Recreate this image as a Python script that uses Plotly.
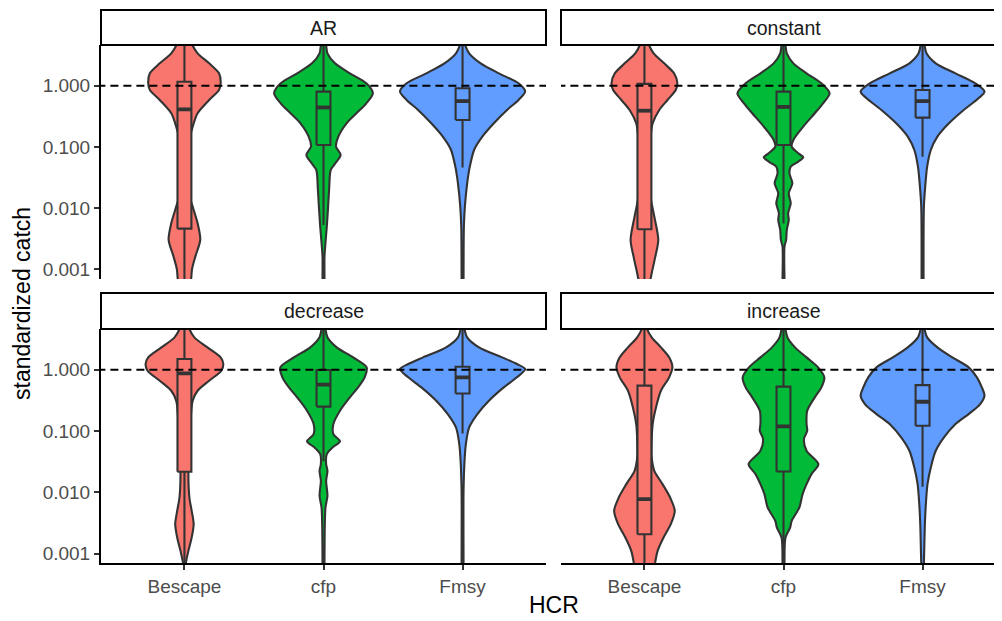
import plotly.graph_objects as go

# ---------------- data ----------------
hcr_labels = ["Bescape", "cfp", "Fmsy"]
scenarios = ["AR", "constant", "decrease", "increase"]
fill_colors = ["#F8766D", "#00BA38", "#619CFF"]
hcr_pos = [1, 2, 3]
ref_catch = 1.0

# violin outlines: log10(standardized catch) and relative density width
ar_bescape_log = [0.80, 0.665, 0.529, 0.365, 0.202, 0.039, -0.070, -0.234, -0.451, -0.669, -0.887, -1.160, -1.704, -1.977, -2.249, -2.521, -2.794, -3.000, -3.175, -3.30]
ar_bescape_den = [14, 24, 40, 75, 105, 110, 105, 75, 40, 25, 15, 11, 10, 25, 40, 48, 33, 23, 20, 14]
ar_cfp_log = [0.80, 0.665, 0.529, 0.365, 0.202, 0.039, -0.124, -0.288, -0.451, -0.615, -0.833, -0.996, -1.132, -1.268, -1.377, -1.704, -1.977, -2.303, -2.630, -2.794, -3.175, -3.30]
ar_cfp_den = [4, 8, 12, 35, 80, 130, 150, 130, 100, 70, 45, 38, 52, 36, 22, 17, 14, 10, 5, 3, 3, 3]
ar_fmsy_log = [0.80, 0.665, 0.529, 0.365, 0.202, 0.039, -0.097, -0.234, -0.397, -0.615, -0.833, -1.051, -1.323, -1.595, -1.977, -2.303, -3.175, -3.30]
ar_fmsy_den = [4, 8, 20, 55, 110, 170, 190, 170, 135, 95, 60, 35, 22, 14, 7, 4, 3, 3]

constant_bescape_log = [0.80, 0.665, 0.529, 0.365, 0.202, 0.039, -0.070, -0.234, -0.397, -0.615, -0.887, -1.432, -1.868, -2.140, -2.521, -2.794, -3.066, -3.175, -3.30]
constant_bescape_den = [8, 14, 28, 60, 90, 100, 95, 70, 45, 25, 18, 12, 20, 30, 42, 33, 22, 18, 14]
constant_cfp_log = [0.80, 0.665, 0.529, 0.365, 0.202, 0.039, -0.124, -0.288, -0.451, -0.669, -0.887, -0.996, -1.105, -1.170, -1.241, -1.323, -1.432, -1.595, -1.759, -1.922, -2.086, -2.194, -2.358, -2.521, -2.630, -3.175, -3.30]
constant_cfp_den = [3, 6, 10, 30, 70, 115, 140, 120, 95, 60, 30, 25, 45, 60, 45, 22, 18, 27, 16, 22, 14, 16, 10, 8, 3, 3, 3]
constant_fmsy_log = [0.80, 0.665, 0.529, 0.365, 0.202, 0.039, -0.097, -0.206, -0.397, -0.615, -0.833, -1.051, -1.323, -1.650, -1.977, -3.175, -3.30]
constant_fmsy_den = [3, 6, 12, 40, 100, 160, 188, 170, 125, 80, 45, 25, 14, 8, 4, 3, 3]

decrease_bescape_log = [0.80, 0.665, 0.529, 0.365, 0.202, 0.093, -0.016, -0.179, -0.343, -0.506, -0.887, -1.704, -2.086, -2.303, -2.521, -2.739, -2.957, -3.164, -3.30]
decrease_bescape_den = [8, 15, 30, 70, 110, 118, 112, 75, 40, 25, 18, 12, 15, 22, 28, 22, 12, 4, 1]
decrease_cfp_log = [0.80, 0.665, 0.529, 0.365, 0.202, 0.039, -0.124, -0.288, -0.451, -0.669, -0.887, -1.051, -1.170, -1.257, -1.377, -1.541, -1.650, -1.813, -2.058, -2.249, -2.521, -3.164, -3.30]
decrease_cfp_den = [3, 6, 12, 40, 90, 131, 125, 105, 80, 50, 30, 30, 50, 30, 10, 8, 12, 8, 12, 6, 4, 3, 3]
decrease_fmsy_log = [0.80, 0.665, 0.529, 0.365, 0.202, 0.093, 0.011, -0.124, -0.288, -0.506, -0.724, -0.942, -1.214, -1.486, -1.977, -3.164, -3.30]
decrease_fmsy_den = [3, 6, 14, 50, 120, 165, 190, 165, 125, 80, 45, 20, 10, 6, 3, 3, 3]

increase_bescape_log = [0.80, 0.665, 0.529, 0.365, 0.202, 0.039, -0.124, -0.343, -0.615, -0.887, -1.160, -1.432, -1.650, -1.868, -2.086, -2.303, -2.521, -2.739, -2.957, -3.164, -3.30]
increase_bescape_den = [4, 8, 22, 50, 75, 85, 75, 50, 35, 25, 22, 22, 30, 55, 78, 92, 80, 58, 40, 32, 28]
increase_cfp_log = [0.80, 0.665, 0.529, 0.365, 0.202, 0.039, -0.124, -0.288, -0.451, -0.669, -0.887, -0.996, -1.132, -1.323, -1.541, -1.704, -1.868, -2.031, -2.249, -2.467, -2.576, -2.739, -3.164, -3.30]
increase_cfp_den = [3, 6, 12, 35, 70, 105, 124, 115, 95, 72, 70, 72, 62, 70, 106, 85, 70, 58, 48, 25, 20, 6, 3, 3]
increase_fmsy_log = [0.80, 0.665, 0.529, 0.365, 0.202, 0.039, -0.124, -0.288, -0.424, -0.560, -0.724, -0.887, -1.105, -1.323, -1.595, -1.868, -2.194, -2.521, -2.957, -3.164, -3.30]
increase_fmsy_den = [3, 6, 14, 45, 90, 140, 165, 180, 188, 175, 140, 100, 65, 40, 25, 15, 10, 7, 5, 4, 4]

# box statistics (standardized catch), order Bescape, cfp, Fmsy
ar_q1 = [0.0046, 0.107, 0.275]
ar_med = [0.41, 0.44, 0.56]
ar_q3 = [1.16, 0.80, 0.91]
ar_lo = [0.0003, 0.0053, 0.046]
ar_hi = [6.0, 5.5, 5.5]

constant_q1 = [0.0045, 0.107, 0.30]
constant_med = [0.39, 0.45, 0.56]
constant_q3 = [1.07, 0.80, 0.85]
constant_lo = [0.0003, 0.0056, 0.069]
constant_hi = [6.0, 5.5, 5.5]

decrease_q1 = [0.0216, 0.25, 0.41]
decrease_med = [0.87, 0.57, 0.75]
decrease_q3 = [1.50, 0.99, 1.12]
decrease_lo = [0.0003, 0.032, 0.091]
decrease_hi = [6.0, 5.5, 5.5]

increase_q1 = [0.00206, 0.0218, 0.122]
increase_med = [0.0077, 0.119, 0.30]
increase_q3 = [0.55, 0.53, 0.56]
increase_lo = [0.0003, 0.0003, 0.0123]
increase_hi = [6.0, 5.5, 5.5]

y_tick_vals = [0.001, 0.01, 0.1, 1.0]
y_tick_text = ["0.001", "0.010", "0.100", "1.000"]

# ---------------- assembly ----------------
violin_log = {
    "AR": [ar_bescape_log, ar_cfp_log, ar_fmsy_log],
    "constant": [constant_bescape_log, constant_cfp_log, constant_fmsy_log],
    "decrease": [decrease_bescape_log, decrease_cfp_log, decrease_fmsy_log],
    "increase": [increase_bescape_log, increase_cfp_log, increase_fmsy_log],
}
violin_den = {
    "AR": [ar_bescape_den, ar_cfp_den, ar_fmsy_den],
    "constant": [constant_bescape_den, constant_cfp_den, constant_fmsy_den],
    "decrease": [decrease_bescape_den, decrease_cfp_den, decrease_fmsy_den],
    "increase": [increase_bescape_den, increase_cfp_den, increase_fmsy_den],
}
box_stats = {
    "AR": (ar_q1, ar_med, ar_q3, ar_lo, ar_hi),
    "constant": (constant_q1, constant_med, constant_q3, constant_lo, constant_hi),
    "decrease": (decrease_q1, decrease_med, decrease_q3, decrease_lo, decrease_hi),
    "increase": (increase_q1, increase_med, increase_q3, increase_lo, increase_hi),
}

VIOLIN_WIDTH = 0.9
BOX_WIDTH = 0.1
max_den = max(max(d) for s in scenarios for d in violin_den[s])
den_scale = (VIOLIN_WIDTH / 2) / max_den

OUTLINE = "#333333"
LW = 2.1
FONT = "Liberation Sans, Arial, sans-serif"

fig = go.Figure()
axis_ids = ["", "2", "3", "4"]

for si, scen in enumerate(scenarios):
    xa = "x" + axis_ids[si]
    ya = "y" + axis_ids[si]
    q1, med, q3, lo, hi = box_stats[scen]
    for k, hcr in enumerate(hcr_labels):
        pos = hcr_pos[k]
        logs = violin_log[scen][k]
        dens = violin_den[scen][k]
        xs = [pos + d * den_scale for d in dens] + [pos - d * den_scale for d in reversed(dens)]
        ys = [10 ** l for l in logs] + [10 ** l for l in reversed(logs)]
        xs.append(xs[0])
        ys.append(ys[0])
        fig.add_trace(go.Scatter(
            x=xs, y=ys, mode="lines", fill="toself", fillcolor=fill_colors[k],
            line=dict(color=OUTLINE, width=LW, shape="spline", smoothing=0.8),
            xaxis=xa, yaxis=ya, showlegend=False, hoverinfo="skip"))
        # whiskers
        fig.add_trace(go.Scatter(
            x=[pos, pos, None, pos, pos], y=[q3[k], hi[k], None, q1[k], lo[k]],
            mode="lines", line=dict(color=OUTLINE, width=LW),
            xaxis=xa, yaxis=ya, showlegend=False, hoverinfo="skip"))
        # box
        x0, x1 = pos - BOX_WIDTH / 2, pos + BOX_WIDTH / 2
        fig.add_trace(go.Scatter(
            x=[x0, x1, x1, x0, x0], y=[q1[k], q1[k], q3[k], q3[k], q1[k]],
            mode="lines", fill="toself", fillcolor=fill_colors[k],
            line=dict(color=OUTLINE, width=LW),
            xaxis=xa, yaxis=ya, showlegend=False, hoverinfo="skip"))
        # median
        fig.add_trace(go.Scatter(
            x=[x0, x1], y=[med[k], med[k]],
            mode="lines", line=dict(color=OUTLINE, width=3.8),
            xaxis=xa, yaxis=ya, showlegend=False, hoverinfo="skip"))
    fig.add_trace(go.Scatter(
        x=[0.0, 4.0], y=[ref_catch, ref_catch], mode="lines",
        line=dict(color="black", width=2, dash="8px,5px"),
        xaxis=xa, yaxis=ya, showlegend=False, hoverinfo="skip"))

# ---------------- layout ----------------
OFF = 8  # page body margin offset
W, H = 1002 - OFF, 621 - OFF
def px_x(p):
    return (p - OFF) / W
def px_y(p):
    return 1 - (p - OFF) / H

unit = (546 - 101) / 3.2
xL = [px_x(101), px_x(546)]
xR = [px_x(561), 1.0]
x_range_L = [0.4, 3.6]
x_range_R = [0.4, 0.4 + (1002 - 561) / unit]
yT = [px_y(279), px_y(45)]
yB = [px_y(563.3), px_y(329)]
y_range = [-3.16, 0.665]

tick_font = dict(family=FONT, size=19, color="#4D4D4D")

def xaxis_cfg(domain, rng, anchor, bottom):
    cfg = dict(domain=domain, range=rng, anchor=anchor, showgrid=False, zeroline=False,
               fixedrange=True, tickvals=hcr_pos, ticktext=hcr_labels)
    if bottom:
        cfg.update(showline=True, linecolor="black", linewidth=2, ticks="outside",
                   ticklen=5, tickwidth=2, tickcolor=OUTLINE, tickfont=tick_font,
                   showticklabels=True)
    else:
        cfg.update(showline=False, ticks="", showticklabels=False)
    return cfg

def yaxis_cfg(domain, anchor, left):
    cfg = dict(domain=domain, type="log", range=y_range, anchor=anchor, showgrid=False,
               zeroline=False, fixedrange=True, tickvals=y_tick_vals, ticktext=y_tick_text)
    if left:
        cfg.update(showline=True, linecolor="black", linewidth=2, ticks="outside",
                   ticklen=5, tickwidth=2, tickcolor=OUTLINE, tickfont=tick_font,
                   showticklabels=True)
    else:
        cfg.update(showline=False, ticks="", showticklabels=False)
    return cfg

layout = dict(
    width=W, height=H, margin=dict(l=0, r=0, t=0, b=0),
    paper_bgcolor="white", plot_bgcolor="white",
    font=dict(family=FONT),
    xaxis=xaxis_cfg(xL, x_range_L, "y", False),
    xaxis2=xaxis_cfg(xR, x_range_R, "y2", False),
    xaxis3=xaxis_cfg(xL, x_range_L, "y3", True),
    xaxis4=xaxis_cfg(xR, x_range_R, "y4", True),
    yaxis=yaxis_cfg(yT, "x", True),
    yaxis2=yaxis_cfg(yT, "x2", False),
    yaxis3=yaxis_cfg(yB, "x3", True),
    yaxis4=yaxis_cfg(yB, "x4", False),
)
fig.update_layout(**layout)

# facet strips
right_center = (px_x(561) + px_x(561 + 3.2 * unit)) / 2
strip_x = [xL, [xR[0], 1.02], xL, [xR[0], 1.02]]
strip_y = [[px_y(45), px_y(10)], [px_y(45), px_y(10)], [px_y(329), px_y(293)], [px_y(329), px_y(293)]]
label_x = [(xL[0] + xL[1]) / 2, right_center, (xL[0] + xL[1]) / 2, right_center]
for i, scen in enumerate(scenarios):
    fig.add_shape(type="rect", xref="paper", yref="paper",
                  x0=strip_x[i][0], x1=strip_x[i][1], y0=strip_y[i][0], y1=strip_y[i][1],
                  line=dict(color="black", width=2), fillcolor="white", layer="above")
    fig.add_annotation(x=label_x[i], y=(strip_y[i][0] + strip_y[i][1]) / 2,
                       xref="paper", yref="paper", text=scen, showarrow=False,
                       xanchor="center", yanchor="middle",
                       font=dict(family=FONT, size=19.5, color="#1A1A1A"))

# axis titles
fig.add_annotation(x=px_x(22), y=px_y(304), xref="paper", yref="paper",
                   text="standardized catch", textangle=-90, showarrow=False,
                   xanchor="center", yanchor="middle",
                   font=dict(family=FONT, size=23, color="black"))
fig.add_annotation(x=px_x(553.5), y=px_y(605), xref="paper", yref="paper",
                   text="HCR", showarrow=False, xanchor="center", yanchor="middle",
                   font=dict(family=FONT, size=23, color="black"))

fig.write_html("out.html")
